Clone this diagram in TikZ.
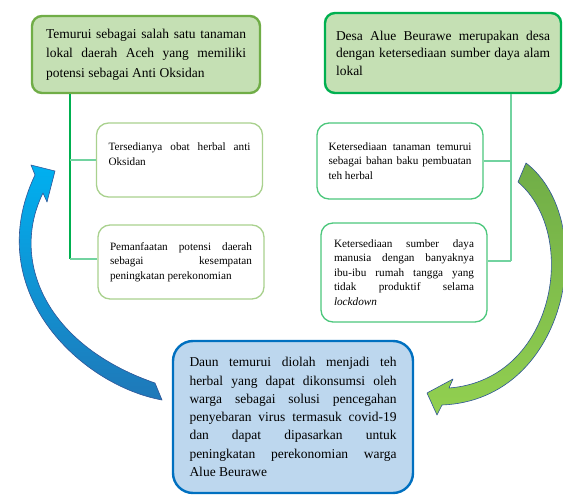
\documentclass[tikz,border=0pt]{standalone}
\usepackage{fontspec}
\setmainfont{Liberation Serif}
\definecolor{softgreen}{HTML}{C5E0B4}
\definecolor{oliveedge}{HTML}{70AD47}
\definecolor{brightgreen}{HTML}{00B050}
\definecolor{palegreen}{HTML}{A9D18E}
\definecolor{mintedge}{HTML}{4CC77C}
\definecolor{mintline}{HTML}{72D3A0}
\definecolor{softblue}{HTML}{BDD7EE}
\definecolor{deepblue}{HTML}{0070C0}
\definecolor{arrowcyan}{HTML}{00B0F0}
\definecolor{arrowblue}{HTML}{1F78B8}
\definecolor{arrowedge}{HTML}{2F5597}
\definecolor{arrowgreen}{HTML}{70AD47}
\definecolor{arrowlime}{HTML}{92D050}
\begin{document}
\begin{tikzpicture}[x=1pt,y=-1pt]
	\tikzset{
		topbox/.style={draw, line width=2.4pt, rounded corners=10pt, fill=softgreen, inner sep=0pt, align=justify, font=\fontsize{13.5}{19.5}\selectfont},
		smallbox/.style={draw, line width=1.3pt, rounded corners=12pt, fill=white, inner sep=0pt, align=justify, minimum width=166pt, text width=142pt, font=\fontsize{11.2}{14.5}\selectfont},
		bottombox/.style={draw=deepblue, line width=2.4pt, rounded corners=20pt, fill=softblue, inner sep=0pt, align=justify, font=\fontsize{13.5}{18.3}\selectfont},
		stemline/.style={line width=1.2pt, color=brightgreen},
		branchline/.style={line width=1.2pt, color=mintline},
		blockarrow/.style={draw=arrowedge, line width=0.6pt, line join=round}
	}
	\useasboundingbox (0,0) rectangle (563,495);

	\node[topbox, draw=oliveedge, minimum width=228pt, minimum height=77pt, text width=200pt] (lokal) at (146,54.5)
		{Temurui sebagai salah satu tanaman \linebreak lokal daerah Aceh yang memiliki \linebreak potensi sebagai Anti Oksidan};
	\node[topbox, draw=brightgreen, minimum width=236pt, minimum height=80pt, text width=214pt, font=\fontsize{13.5}{17.5}\selectfont] (desa) at (443,53)
		{Desa Alue Beurawe merupakan desa \linebreak dengan ketersediaan sumber daya alam \linebreak lokal};

	\node[smallbox, draw=palegreen, minimum height=74pt] (obat) at (179.5,160)
		{Tersedianya obat herbal anti \linebreak Oksidan\par\nointerlineskip\rule{0pt}{12pt}};
	\node[smallbox, draw=palegreen, minimum height=74pt] (potensi) at (181,262)
		{Pemanfaatan potensi daerah \linebreak sebagai kesempatan \linebreak peningkatan perekonomian};
	\node[smallbox, draw=mintedge, minimum height=76pt, text width=143pt] (bahan) at (400,161)
		{Ketersediaan tanaman temurui \linebreak sebagai bahan baku pembuatan \linebreak teh herbal};
	\node[smallbox, draw=mintedge, minimum height=99pt, text width=140pt] (sdm) at (404,272.5)
		{Ketersediaan sumber daya \linebreak manusia dengan banyaknya \linebreak ibu-ibu rumah tangga yang \linebreak tidak produktif selama \linebreak \textit{lockdown}};

	\node[bottombox, minimum width=240pt, minimum height=152pt, text width=207pt] (solusi) at (293,417)
		{Daun temurui diolah menjadi teh \linebreak herbal yang dapat dikonsumsi oleh \linebreak warga sebagai solusi pencegahan \linebreak penyebaran virus termasuk covid-19 \linebreak dan dapat dipasarkan untuk \linebreak peningkatan perekonomian warga \linebreak Alue Beurawe};

	\coordinate (kiri) at (70,259);
	\coordinate (kanan) at (511,261);
	\draw[stemline] (lokal.south -| kiri) -- (kiri);
	\draw[branchline] (obat.west) -- (obat.west -| kiri);
	\draw[branchline] (potensi.west |- kiri) -- (kiri);
	\draw[branchline] (desa.south -| kanan) -- (kanan);
	\draw[branchline] (bahan.east) -- (bahan.east -| kanan);
	\draw[branchline] (sdm.east |- kanan) -- (kanan);

	\draw[blockarrow, top color=arrowcyan, bottom color=arrowblue]
		(162,400) .. controls (80,385) and (-20,290) .. (35,175)
		-- (31,165) -- (55,171) -- (47,202) -- (43,193)
		.. controls (10,260) and (45,345) .. (155,383) -- cycle;
	\draw[blockarrow, top color=arrowgreen, bottom color=arrowlime]
		(526,163) .. controls (600,220) and (570,400) .. (442,405)
		-- (437,415) -- (427,393) -- (453,379) -- (449,388)
		.. controls (555,380) and (580,235) .. (518,182) -- cycle;
\end{tikzpicture}
\end{document}
